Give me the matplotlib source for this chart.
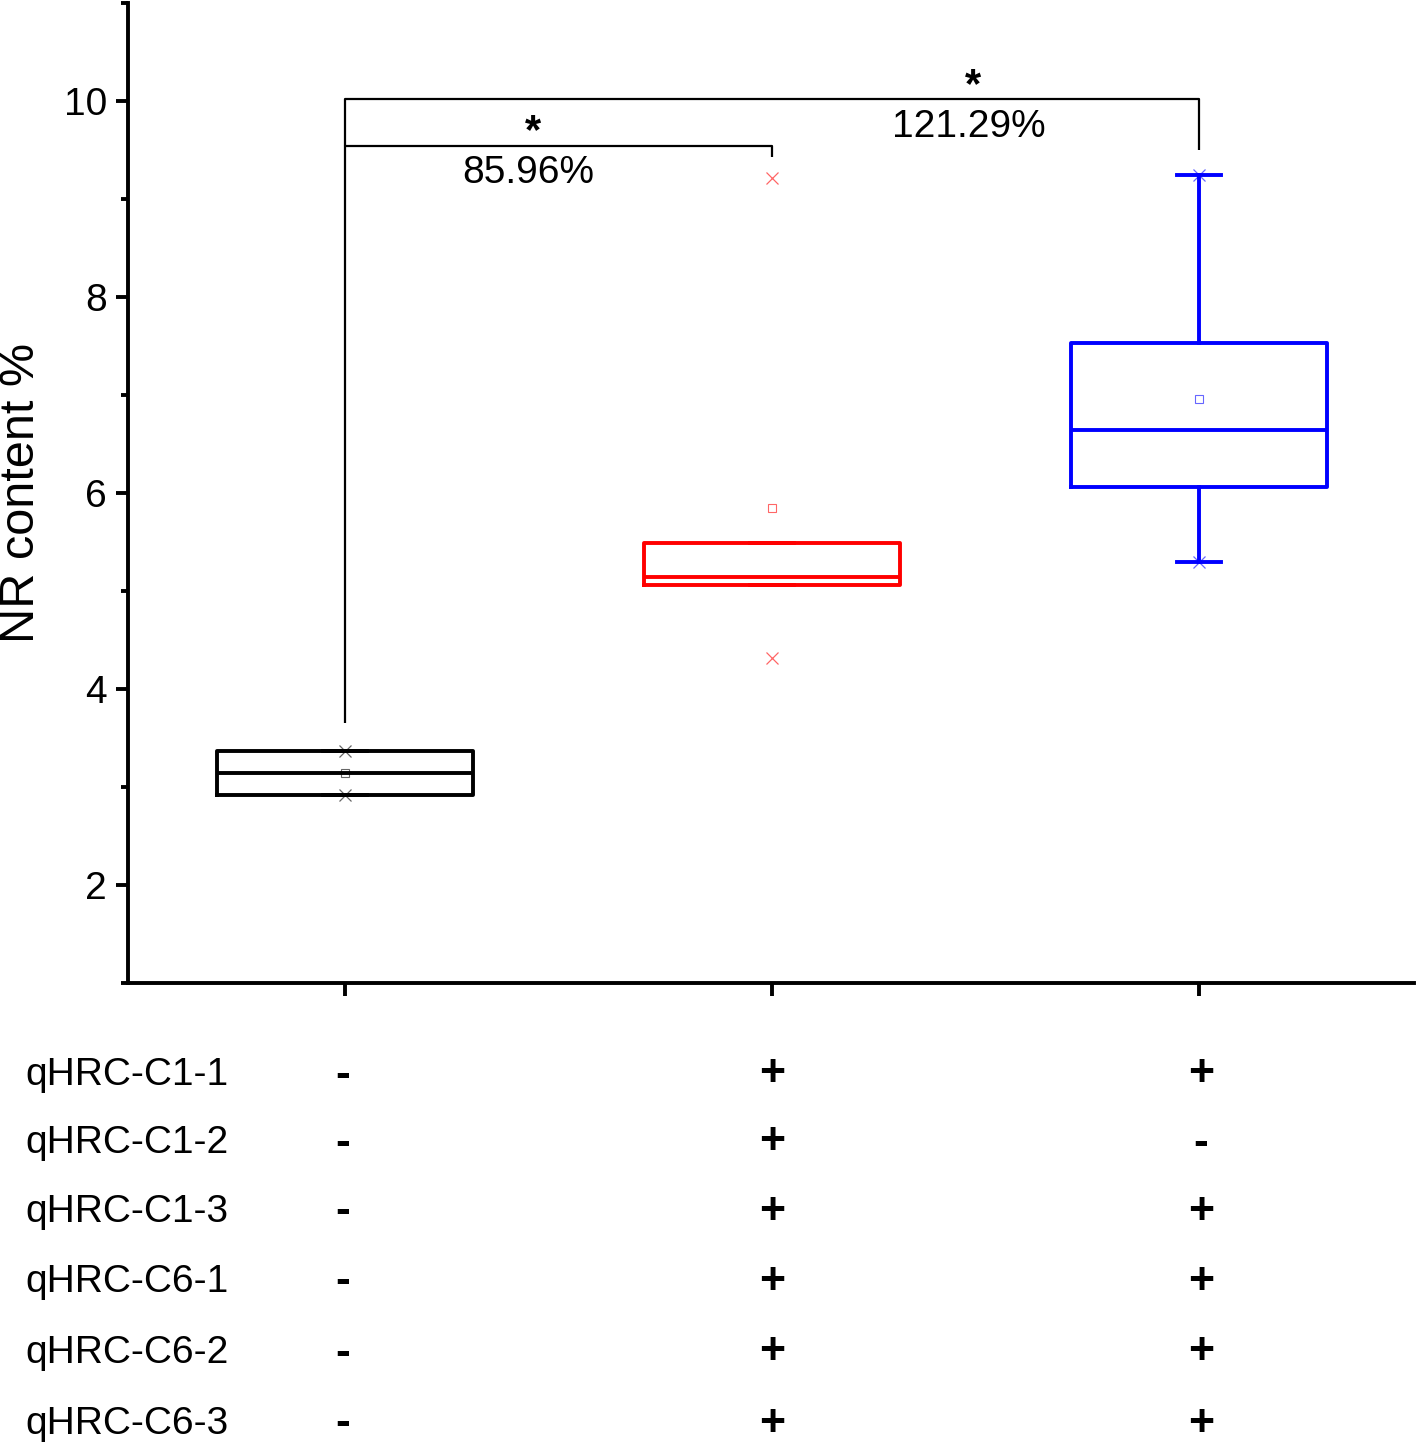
import matplotlib
matplotlib.use("Agg")
import matplotlib.pyplot as plt
from matplotlib.ticker import MultipleLocator

plt.rcParams['font.family'] = ['Liberation Sans', 'DejaVu Sans']

# ---- data ----
positions = [1, 2, 3]
colors = ['black', 'red', 'blue']
q1 = [2.92, 5.06, 6.06]
median = [3.14, 5.14, 6.64]
q3 = [3.37, 5.49, 7.53]
whislo = [2.92, 5.06, 5.30]
whishi = [3.37, 5.49, 9.24]
mean = [3.14, 5.85, 6.96]
min_val = [2.92, 4.32, 5.30]
max_val = [3.37, 9.21, 9.24]

row_labels = ['qHRC-C1-1', 'qHRC-C1-2', 'qHRC-C1-3', 'qHRC-C6-1', 'qHRC-C6-2', 'qHRC-C6-3']
col1 = ['-', '-', '-', '-', '-', '-']
col2 = ['+', '+', '+', '+', '+', '+']
col3 = ['+', '-', '+', '+', '+', '+']

brackets = [  # (x1, x2, y_top, y_left_bottom, y_right_bottom)
    (1, 2, 9.54, 3.65, 9.43),
    (1, 3, 10.02, 9.54, 9.50),
]
stars = ['*', '*']
pcts = ['85.96%', '121.29%']

W, H = 1416, 1446
fig = plt.figure(figsize=(W / 100, H / 100), dpi=100)
ax = fig.add_axes([128 / W, 1 - 983 / H, (1414 - 128) / W, (983 - 3) / H])

for i in range(3):
    st = [dict(med=median[i], q1=q1[i], q3=q3[i], whislo=whislo[i], whishi=whishi[i], label='')]
    c = colors[i]
    ax.bxp(st, positions=[positions[i]], widths=0.6, capwidths=0.105, showfliers=False,
           boxprops=dict(color=c, linewidth=2.8),
           whiskerprops=dict(color=c, linewidth=2.8),
           capprops=dict(color=c, linewidth=2.8),
           medianprops=dict(color=c, linewidth=2.8))
    ax.plot([positions[i]], [mean[i]], marker='s', mfc='none', mec=c, ms=6, mew=0.8,
            alpha=0.6, ls='none', zorder=5)
    ax.plot([positions[i], positions[i]], [min_val[i], max_val[i]], marker='x', color=c,
            ms=9, mew=0.9, alpha=0.6, ls='none', zorder=5)

for (x1, x2, yt, yl, yr) in brackets:
    ax.plot([x1, x1, x2, x2], [yl, yt, yt, yr], color='black', lw=1.6, solid_capstyle='butt')

ax.text(1.44, 9.48, stars[0], ha='center', va='bottom', fontsize=30, fontweight='bold')
ax.text(1.43, 9.45, pcts[0], ha='center', va='top', fontsize=28)
ax.text(2.47, 9.95, stars[1], ha='center', va='bottom', fontsize=30, fontweight='bold')
ax.text(2.46, 9.92, pcts[1], ha='center', va='top', fontsize=28)

ax.set_xlim(0.492, 3.5035)
ax.set_ylim(1, 11)
ax.yaxis.set_major_locator(MultipleLocator(2))
ax.yaxis.set_minor_locator(MultipleLocator(1))
ax.set_yticks([2, 4, 6, 8, 10])
ax.set_xticks(positions)
ax.set_xticklabels([])
ax.tick_params(axis='y', which='major', direction='out', length=9, width=2.8, labelsize=28, pad=6)
ax.tick_params(axis='y', which='minor', direction='out', length=5, width=2.8)
ax.tick_params(axis='x', which='major', direction='out', length=9, width=2.8)
ax.spines['top'].set_visible(False)
ax.spines['right'].set_visible(False)
ax.spines['left'].set_linewidth(2.8)
ax.spines['bottom'].set_linewidth(2.8)
ax.set_ylabel('NR content %', fontsize=35, labelpad=14)

# table below
row_y = [1075, 1143, 1212, 1282, 1353, 1424]
col_x = [343, 772, 1201]
for r, lab in enumerate(row_labels):
    yf = 1 - row_y[r] / H
    fig.text(25 / W, yf, lab, ha='left', va='center', fontsize=28)
    for cx, col in zip(col_x, [col1, col2, col3]):
        fig.text(cx / W, yf, col[r], ha='center', va='center', fontsize=32, fontweight='bold')

fig.savefig('out.png', dpi=100)
